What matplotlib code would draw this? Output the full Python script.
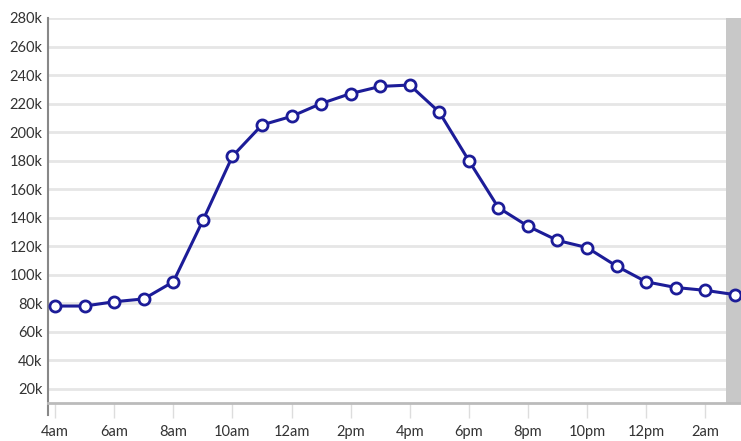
import matplotlib.pyplot as plt

# Hourly values, 4am through 3am next day
hours = list(range(24))
visitors = [78, 78, 81, 83, 95, 138, 183, 205, 211, 220, 227, 232,
            233, 214, 180, 147, 134, 124, 119, 106, 95, 91, 89, 86]
visitors = [v * 1000 for v in visitors]

tick_pos = list(range(0, 24, 2))
tick_labels = ["4am", "6am", "8am", "10am", "12am", "2pm",
               "4pm", "6pm", "8pm", "10pm", "12pm", "2am"]
y_ticks = list(range(20000, 280001, 20000))
y_labels = [f"{v // 1000}k" for v in y_ticks]

line_color = "#1c1c98"
text_color = "#333333"

fig = plt.figure(figsize=(7.41, 4.41), dpi=100)
ax = fig.add_axes([48 / 741, 38 / 441, 693 / 741, 385 / 441])

ax.set_xlim(-0.24, 23.21)
ax.set_ylim(10000, 280000)

# shaded band at the right edge
ax.axvspan(22.71, 23.21, color="#c8c8c8", zorder=1, lw=0)

for y in y_ticks:
    ax.axhline(y, color="#e6e6e6", lw=2, zorder=0)

ax.plot(hours, visitors, color=line_color, lw=2.2, marker="o",
        markersize=8, markerfacecolor="white", markeredgecolor=line_color,
        markeredgewidth=2, zorder=3, clip_on=False)

ax.set_xticks(tick_pos)
ax.set_xticklabels(tick_labels, fontsize=10.5, color=text_color, family="Lato")
ax.set_yticks(y_ticks)
ax.set_yticklabels(y_labels, fontsize=10.5, color=text_color, family="Lato")

ax.tick_params(axis="x", direction="out", length=11, width=1,
               color="#dddddd", pad=5)
ax.tick_params(axis="y", length=0, pad=4)

for side in ["top", "right"]:
    ax.spines[side].set_visible(False)
ax.spines["left"].set_color("#888888")
ax.spines["left"].set_linewidth(1.5)
# left axis line runs a little below the bottom axis
ax.spines["left"].set_bounds(1600, 280000)
ax.spines["bottom"].set_color("#bbbbbb")
ax.spines["bottom"].set_linewidth(2)

fig.savefig("out.png", dpi=100)
